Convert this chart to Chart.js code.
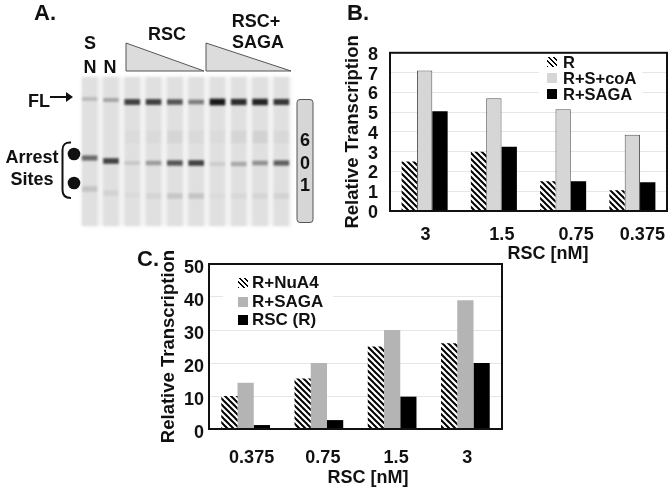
<!DOCTYPE html>
<html>
<head>
<meta charset="utf-8">
<script src="https://cdn.jsdelivr.net/npm/chart.js"></script>
<style>
  html, body { margin: 0; padding: 0; background: #fff; }
  #page { position: relative; width: 672px; height: 490px; overflow: hidden;
          font: bold 18px "Liberation Sans", Arial, sans-serif; color: #111; }
  #page canvas, #page svg { position: absolute; }
  .t { position: absolute; line-height: 20px; white-space: nowrap; transform: translate(-50%, -50%); }
  .legend { position: absolute; background: #fff; }
  .legend div { position: absolute; white-space: nowrap; line-height: 18px; }
  .legend i { position: absolute; width: 10px; height: 10px; }
  #gelBack { position: absolute; left: 83px; top: 77px; width: 208px; height: 149px; background: #f2f2f2; filter: blur(2px); }
  #gel { filter: blur(1.2px); }
</style>
</head>
<body>
<div id="page">
  <div id="gelBack"></div>
  <canvas id="gel" width="213" height="149" style="left:79px;top:77px"></canvas>
  <canvas id="chartB" width="327" height="215" style="left:342px;top:30px"></canvas>
  <canvas id="chartC" width="346" height="225" style="left:158px;top:245px"></canvas>

  <svg width="672" height="490" style="left:0;top:0;pointer-events:none">
    <polygon points="126,43 204,71 126,71" fill="#dcdcdc" stroke="#555" stroke-width="1"/>
    <polygon points="206,43 291,71 206,71" fill="#dcdcdc" stroke="#555" stroke-width="1"/>
    <rect x="297" y="99.5" width="16" height="123" rx="3" fill="#d6d6d6" stroke="#555" stroke-width="1"/>
    <path d="M50 97H68" stroke="#111" stroke-width="2"/>
    <path d="M66 92L73 97L66 102Z" fill="#111"/>
    <path d="M71 142.5Q62.5 142 62.5 150V190Q62.5 198 71 198" fill="none" stroke="#111" stroke-width="2"/>
    <circle cx="74" cy="154" r="6.3" fill="#111"/>
    <circle cx="74" cy="183" r="6.3" fill="#111"/>
  </svg>

  <div class="t" style="left:45px;top:13px;font-size:22px">A.</div>
  <div class="t" style="left:358px;top:13px;font-size:22px">B.</div>
  <div class="t" style="left:148px;top:259px;font-size:22px">C.</div>
  <div class="t" style="left:90px;top:43px">S</div>
  <div class="t" style="left:90px;top:67px">N</div>
  <div class="t" style="left:110px;top:67px">N</div>
  <div class="t" style="left:167px;top:34px">RSC</div>
  <div class="t" style="left:256px;top:21px">RSC+</div>
  <div class="t" style="left:258px;top:42px">SAGA</div>
  <div class="t" style="left:39px;top:101px">FL</div>
  <div class="t" style="left:32px;top:157px">Arrest</div>
  <div class="t" style="left:32px;top:179px">Sites</div>
  <div class="t" style="left:305px;top:140px">6</div>
  <div class="t" style="left:305px;top:163px">0</div>
  <div class="t" style="left:305px;top:185px">1</div>
  <div class="t" style="left:548px;top:253px">RSC [nM]</div>
  <div class="t" style="left:368px;top:477px">RSC [nM]</div>

  <div class="legend" id="legendB" style="left:539px;top:56px;width:103px;height:44px;font-size:16.5px"></div>
  <div class="legend" id="legendC" style="left:223px;top:272px;width:110px;height:58px;font-size:17px"></div>
</div>

<script>
// panel B
const rscB = ["3", "1.5", "0.75", "0.375"];
const namesB = ["R", "R+S+coA", "R+SAGA"];
const rB = [2.5, 3, 1.5, 1.05];
const rsCoaB = [7.1, 5.7, 5.15, 3.85];
const rSagaB = [5.05, 3.25, 1.5, 1.45];

// panel C
const rscC = ["0.375", "0.75", "1.5", "3"];
const namesC = ["R+NuA4", "R+SAGA", "RSC (R)"];
const rNua4C = [10, 15.3, 25, 26];
const rSagaC = [14, 20, 30, 39];
const rscOnlyC = [1.2, 2.7, 9.8, 20];

// panel A : gel lanes, band position (from gel top) and darkness
const lanes = ["SN", "N", "R1", "R2", "R3", "R4", "S1", "S2", "S3", "S4"];
const flPos = [22, 23, 25, 25, 25, 25, 25, 25, 25, 25];
const flDark = [0.2, 0.3, 0.8, 0.8, 0.7, 0.5, 1, 0.9, 0.95, 0.85];
const arrestPos1 = [81, 84, 86, 86, 86, 86, 87, 87, 86, 86];
const arrestDark1 = [0.6, 0.8, 0.12, 0.35, 0.7, 0.8, 0.1, 0.28, 0.4, 0.65];
const arrestPos2 = [112, 116, 118, 119, 119, 119, 119, 119, 119, 119];
const arrestDark2 = [0.14, 0.07, 0.02, 0.05, 0.12, 0.14, 0.02, 0.04, 0.05, 0.07];
const smearPos = [60, 60, 60, 60, 60, 60, 60, 60, 60, 60];
const smearDark = [0, 0, 0.02, 0.03, 0.05, 0.03, 0.02, 0.05, 0.07, 0.04];

Chart.defaults.font.family = '"Liberation Sans", Arial, sans-serif';
Chart.defaults.font.weight = "bold";
Chart.defaults.font.size = 18;
Chart.defaults.color = "#111";
Chart.defaults.animation = false;
Chart.defaults.responsive = false;

function hatch() {
  const c = document.createElement("canvas");
  c.width = c.height = 6;
  const g = c.getContext("2d");
  g.fillStyle = "#fff";
  g.fillRect(0, 0, 6, 6);
  g.strokeStyle = "#000";
  g.lineWidth = 2;
  [-6, 0, 6].forEach((d) => {
    g.beginPath();
    g.moveTo(d - 1, -1);
    g.lineTo(d + 7, 7);
    g.stroke();
  });
  return g.createPattern(c, "repeat");
}

// frame round the plot + per-label shift of the x ticks, the labels do not sit under the groups
const framePlugin = {
  id: "frame",
  afterLayout(chart, args, opts) {
    chart.scales.x.getLabelItems().forEach((item, i) => {
      item.options.translation[0] += opts.nudge[i];
    });
  },
  afterDatasetsDraw(chart) {
    const a = chart.chartArea, ctx = chart.ctx;
    ctx.save();
    ctx.strokeStyle = "#111";
    ctx.lineWidth = 2;
    ctx.strokeRect(a.left, a.top, a.right - a.left, a.bottom - a.top);
    ctx.restore();
  }
};

function barChart(id, labels, datasets, o) {
  return new Chart(document.getElementById(id), {
    type: "bar",
    data: { labels, datasets },
    plugins: [framePlugin],
    options: {
      layout: { padding: { top: o.top, right: 2 } },
      datasets: { bar: { categoryPercentage: 0.665, barPercentage: 1 } },
      plugins: { legend: { display: false }, tooltip: { enabled: false }, frame: { nudge: o.nudge } },
      scales: {
        x: {
          grid: { display: false },
          border: { display: false },
          ticks: { padding: o.xPad, maxRotation: 0 },
          afterFit: (s) => { s.height = o.xHeight; }
        },
        y: {
          min: 0,
          max: o.max,
          grid: { color: "#e6e6e6", lineWidth: 1, drawTicks: false },
          border: { display: false },
          ticks: { stepSize: o.step, autoSkip: false, padding: o.yPad, labelOffset: o.yOffset },
          title: { display: true, text: "Relative Transcription", font: { size: 18.5, weight: "bold" }, padding: 0 },
          afterFit: (s) => { s.width = o.yWidth; }
        }
      }
    }
  });
}

function legendRows(id, names, swatches, rows) {
  const box = document.getElementById(id);
  names.forEach((name, i) => {
    const sw = document.createElement("i");
    sw.style.cssText = `left:${rows.sw}px;top:${rows.y[i] - 5}px;background:${swatches[i]}`;
    box.appendChild(sw);
    const tx = document.createElement("div");
    tx.textContent = name;
    tx.style.cssText = `left:${rows.tx}px;top:${rows.y[i] - 9}px`;
    box.appendChild(tx);
  });
}

const stripes = "repeating-linear-gradient(45deg,#000 0 1.4px,#fff 1.4px 3.6px)";

barChart("chartB", rscB, [
  { label: namesB[0], data: rB, backgroundColor: hatch() },
  { label: namesB[1], data: rsCoaB, backgroundColor: "#d6d6d6", borderColor: "#555", borderWidth: 1 },
  { label: namesB[2], data: rSagaB, backgroundColor: "#000" }
], { top: 22, max: 8, step: 1, xHeight: 34, yWidth: 48, xPad: 5, yPad: 12, yOffset: 2, nudge: [1, 8, 13, 10] });

barChart("chartC", rscC, [
  { label: namesC[0], data: rNua4C, backgroundColor: hatch() },
  { label: namesC[1], data: rSagaC, backgroundColor: "#b4b4b4" },
  { label: namesC[2], data: rscOnlyC, backgroundColor: "#000" }
], { top: 19, max: 50, step: 10, xHeight: 41, yWidth: 51, xPad: 10, yPad: 5, yOffset: 4, nudge: [6, 4, 4, 2] });

legendRows("legendB", namesB, [stripes, "#d6d6d6", "#000"], { sw: 8, tx: 24, y: [6, 22, 38] });
legendRows("legendC", namesC, [stripes, "#b4b4b4", "#000"], { sw: 15, tx: 29, y: [11, 30, 48] });

// gel : every band is a floating bar over its lane
function bandSet(pos, dark, half, order) {
  return {
    data: pos.map((p, i) => [p - half(dark[i]), p + half(dark[i])]),
    backgroundColor: dark.map((d) => `rgba(25,25,25,${d})`),
    order
  };
}

new Chart(document.getElementById("gel"), {
  type: "bar",
  data: {
    labels: lanes,
    datasets: [
      bandSet(flPos, flDark, (d) => 1 + d * 2, 0),
      bandSet(arrestPos1, arrestDark1, (d) => 1.5 + d * 1.2, 1),
      bandSet(arrestPos2, arrestDark2, () => 2.5, 2),
      bandSet(smearPos, smearDark, () => 6, 3),
      { data: lanes.map(() => [0, 149]), backgroundColor: "#e0e0e0", order: 4 }
    ]
  },
  options: {
    layout: { padding: 0 },
    datasets: { bar: { grouped: false, barThickness: 15 } },
    plugins: { legend: { display: false }, tooltip: { enabled: false } },
    scales: {
      x: { display: false },
      y: { display: false, reverse: true, min: 0, max: 149 }
    }
  }
});
</script>
</body>
</html>
